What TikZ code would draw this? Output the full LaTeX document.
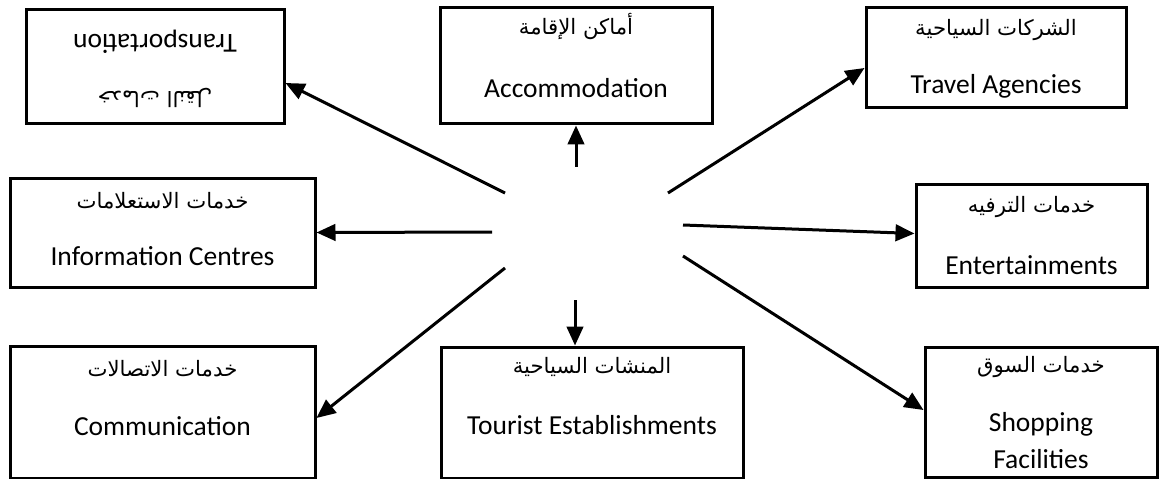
\documentclass[tikz,border=0pt]{standalone}
\usepackage{fontspec}
\setmainfont{Carlito}
\newfontfamily\arabicfont[Script=Arabic]{DejaVu Sans}
\usetikzlibrary{arrows.meta}
\TeXXeTstate=1
\def\u{0.4pt}

\begin{document}
\begin{tikzpicture}[x=0.4pt, y=-0.4pt,
    box/.style={draw, line width=1.2pt, inner sep=0pt},
    en/.style={font=\fontsize{11}{14.5}\selectfont, align=center, inner sep=0pt},
    ar/.style={font=\arabicfont\fontsize{8.5}{10}\selectfont, inner sep=0pt},
    arr/.style={line width=1.2pt, -{Triangle[length=7.6pt, width=6.6pt]}}]
            \useasboundingbox (0,0) rectangle (1159,479);

            \node[box, minimum width=258*\u, minimum height=114*\u] (trn) at (155, 67) {};
            \node[box, minimum width=272*\u, minimum height=116*\u] (acc) at (576, 66) {};
            \node[box, minimum width=260*\u, minimum height=100*\u] (trv) at (996, 58) {};
            \node[box, minimum width=305*\u, minimum height=109*\u] (inf) at (162.5, 232.5) {};
            \node[box, minimum width=231*\u, minimum height=103*\u] (ent) at (1031.5, 235.5) {};
            \node[box, minimum width=305*\u, minimum height=132*\u] (com) at (162.5, 412) {};
            \node[box, minimum width=302*\u, minimum height=131*\u] (tou) at (592, 412.5) {};
            \node[box, minimum width=232*\u, minimum height=130*\u] (shp) at (1041, 412) {};

            \node[en, rotate=180] (trnEn) at ([yshift=-33*\u]trn.north) {Transportation};
            \node[ar, rotate=180] (trnAr) at ([yshift=-89*\u]trn.north) {\beginR خدمات النقل\endR};

            \node[ar] (accAr) at ([yshift=-20*\u]acc.north) {\beginR أماكن الإقامة\endR};
            \node[en] (accEn) at ([yshift=-82*\u]acc.north) {Accommodation};

            \node[ar] (trvAr) at ([yshift=-24*\u]trv.north) {\beginR الشركات السياحية\endR};
            \node[en] (trvEn) at ([yshift=-80*\u]trv.north) {Travel Agencies};

            \node[ar] (infAr) at ([yshift=-24*\u]inf.north) {\beginR خدمات الاستعلامات\endR};
            \node[en] (infEn) at ([yshift=-80*\u]inf.north) {Information Centres};

            \node[ar] (entAr) at ([yshift=-25*\u]ent.north) {\beginR خدمات الترفيه\endR};
            \node[en] (entEn) at ([yshift=-83*\u]ent.north) {Entertainments};

            \node[ar] (comAr) at ([yshift=-24*\u]com.north) {\beginR خدمات الاتصالات\endR};
            \node[en] (comEn) at ([yshift=-82*\u]com.north) {Communication};

            \node[ar] (touAr) at ([yshift=-21*\u]tou.north) {\beginR المنشات السياحية\endR};
            \node[en] (touEn) at ([yshift=-80*\u]tou.north) {Tourist Establishments};

            \node[ar] (shpAr) at ([yshift=-22*\u]shp.north) {\beginR خدمات السوق\endR};
            \node[en] (shpEn) at ([yshift=-95*\u]shp.north) {Shopping\\Facilities};

            \coordinate (s1) at (505, 193);
            \coordinate (s2) at (576, 167);
            \coordinate (s3) at (668, 193);
            \coordinate (s4) at (492, 232);
            \coordinate (s5) at (683, 225);
            \coordinate (s6) at (505, 268);
            \coordinate (s7) at (575, 300);
            \coordinate (s8) at (683, 256);

            \draw[arr] (s1) -- ([yshift=-16*\u]trn.east);
            \draw[arr] (s2) -- (acc.south);
            \draw[arr] (s3) -- ([yshift=-10*\u]trv.west);
            \draw[arr] (s4) -- (inf.east);
            \draw[arr] (s5) -- ([yshift=2*\u]ent.west);
            \draw[arr] (s6) -- ([yshift=-6*\u]com.east);
            \draw[arr] (s7) -- ([xshift=-17*\u]tou.north);
            \draw[arr] (s8) -- ([yshift=2*\u]shp.west);


        \end{tikzpicture}
\end{document}
